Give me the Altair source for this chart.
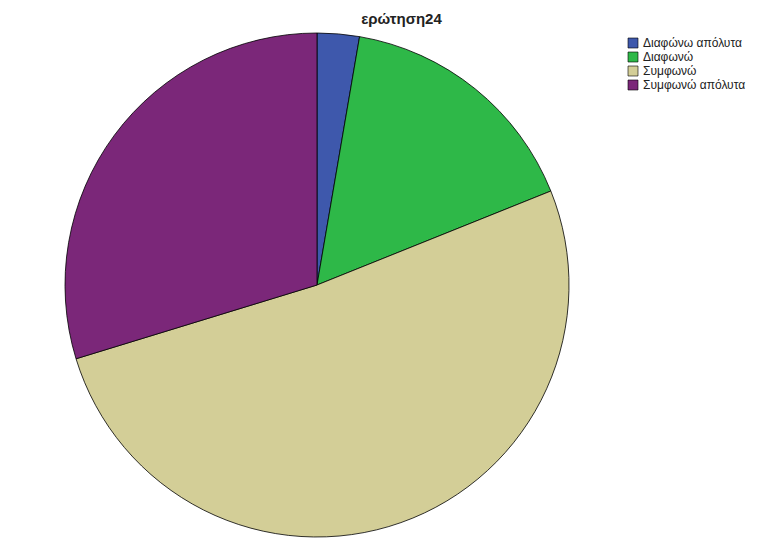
import altair as alt
import pandas as pd

categories = ["Διαφώνω απόλυτα", "Διαφωνώ", "Συμφωνώ", "Συμφωνώ απόλυτα"]
counts = [1, 6, 19, 11]
colors = ["#3E58AC", "#2EB848", "#D3CE97", "#7B2779"]

df = pd.DataFrame({"cat": categories, "n": counts, "ord": list(range(len(categories)))})

chart = alt.Chart(df).mark_arc(
    radius=252, stroke="black", strokeWidth=0.8
).encode(
    theta=alt.Theta("n:Q", stack=True),
    order=alt.Order("ord:Q"),
    color=alt.Color(
        "cat:N",
        scale=alt.Scale(domain=categories, range=colors),
        sort=categories,
        legend=alt.Legend(
            title=None, orient="none", legendX=619, legendY=-1,
            symbolType="square", symbolSize=100, symbolStrokeColor="black",
            symbolStrokeWidth=0.6, symbolOpacity=1, labelFontSize=12,
            labelFont="Liberation Sans", labelColor="#222", rowPadding=0,
            labelOffset=4,
        ),
    ),
    x=alt.value(309),
    y=alt.value(247),
).properties(
    width=755, height=500,
    title=alt.TitleParams("ερώτηση24", fontSize=15, font="Liberation Sans",
                          fontWeight="bold", color="#222", dx=16, offset=4),
    autosize=alt.AutoSizeParams(type="none"),
    padding={"top": 30, "left": 0, "right": 0, "bottom": 0},
).configure_view(stroke=None)

chart.save("out.html", embed_options={"renderer": "svg", "actions": False})
